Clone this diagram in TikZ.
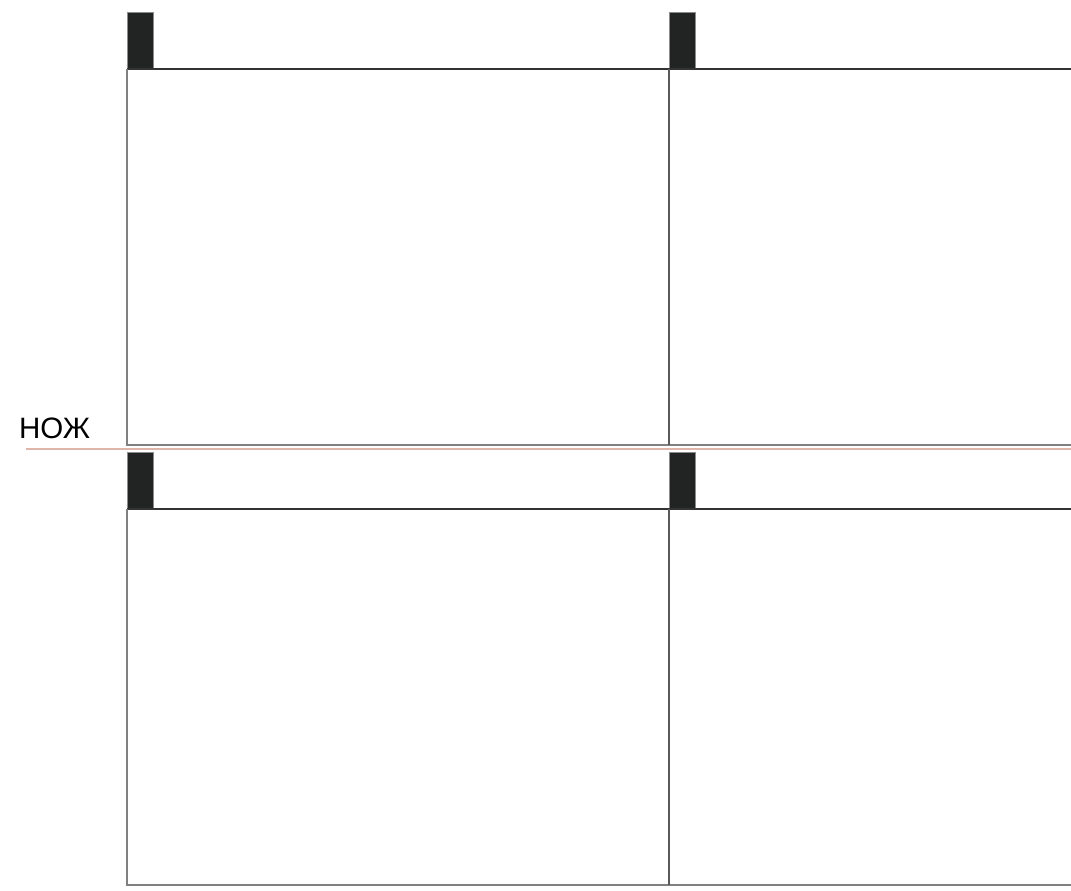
\documentclass[tikz,border=0pt]{standalone}
\usepackage{fontspec}
\setmainfont{Liberation Sans}
\usetikzlibrary{positioning}
\definecolor{tabgray}{rgb}{0.13,0.14,0.137}
\definecolor{cutline}{rgb}{0.87,0.71,0.66}

\begin{document}
\begin{tikzpicture}[x=1pt,y=-1pt,every node/.style={inner sep=0pt},
    tab/.style={draw=black!45,fill=tabgray,line width=0.7pt},
    topline/.style={draw=black!80,line width=1.1pt},
    sideline/.style={draw=black!50,line width=1.1pt}]
    \useasboundingbox (0,0) rectangle (1071,891);
    % two rows of panels
    \foreach \row in {0,440} {
        \foreach \col in {127,669} {
            \draw[tab] (\col,12+\row) rectangle (\col+26,69+\row);
        }
        \draw[topline] (127,69+\row) -- (1071,69+\row);
        \draw[sideline] (127,69+\row) -- (127,445+\row) -- (1071,445+\row);
        \draw[sideline,draw=black!65] (669,69+\row) -- (669,445+\row);
    }
    \node[anchor=base west,font=\fontsize{29.5pt}{32pt}\selectfont] (knife) at (19,438) {НОЖ};
    \coordinate (cutstart) at (26,449);
    \coordinate (cutend) at (1071,449);
    \draw[cutline,line width=1.6pt] (cutstart) -- (cutend);
\end{tikzpicture}
\end{document}
